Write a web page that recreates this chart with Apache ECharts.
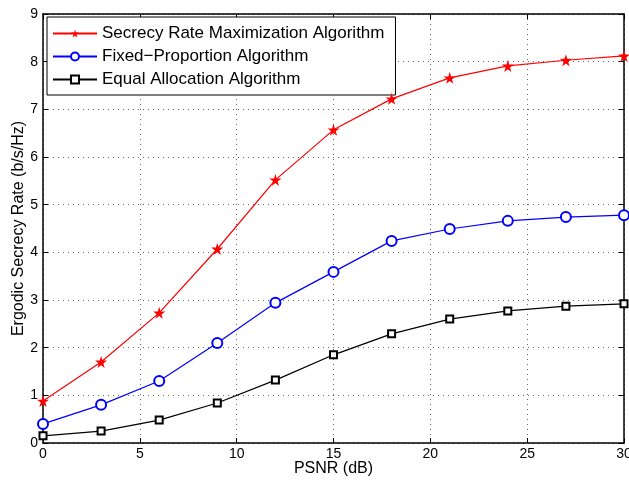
<!DOCTYPE html>
<html>
<head>
<meta charset="utf-8">
<script src="https://cdn.jsdelivr.net/npm/echarts@6/dist/echarts.min.js"></script>
<style>
  html, body { margin: 0; padding: 0; background: #fff; }
  #chart { width: 629px; height: 482px; }
</style>
</head>
<body>
<div id="chart"></div>
<script>
// PSNR values (dB)
const psnr = [0, 3, 6, 9, 12, 15, 18, 21, 24, 27, 30]
// Ergodic secrecy rate (b/s/Hz)
const srma = [0.88, 1.70, 2.73, 4.07, 5.52, 6.57, 7.22, 7.66, 7.91, 8.03, 8.12]
const fixedProp = [0.40, 0.80, 1.30, 2.10, 2.94, 3.59, 4.24, 4.49, 4.66, 4.74, 4.78]
const equalAlloc = [0.15, 0.25, 0.48, 0.84, 1.32, 1.85, 2.29, 2.60, 2.77, 2.87, 2.92]

const names = ['Secrecy Rate Maximization Algorithm', 'Fixed\u2212Proportion Algorithm', 'Equal Allocation Algorithm']

const STAR = 'path://M50,0 L61,35 L98,35 L68,57 L79,91 L50,70 L21,91 L32,57 L2,35 L39,35 Z'
const FONT = 'Liberation Sans'

const pairs = ys => psnr.map((x, i) => [x, ys[i]])

const chart = echarts.init(document.getElementById('chart'))

const gridLine = { show: true, lineStyle: { color: '#666', type: [1, 4], width: 1 } }
const axisLine = { show: true, onZero: false, lineStyle: { color: '#000', width: 1.5 } }
const tick = { show: true, inside: true, length: 5, lineStyle: { color: '#000' } }

chart.setOption({
  animation: false,
  backgroundColor: '#fff',
  textStyle: { fontFamily: FONT },
  grid: { left: 43, right: 5, top: 14, bottom: 39, outerBoundsMode: 'none', containLabel: false },
  legend: {
    left: 47,
    top: 17,
    orient: 'vertical',
    data: names,
    itemWidth: 44,
    itemHeight: 10,
    itemGap: 6,
    padding: [8, 11, 7, 5],
    backgroundColor: '#fff',
    borderColor: '#000',
    borderWidth: 1,
    textStyle: { fontFamily: FONT, fontSize: 17, color: '#000' },
  },
  xAxis: [{
    type: 'value',
    min: 0,
    max: 30,
    interval: 5,
    name: 'PSNR (dB)',
    nameLocation: 'middle',
    nameGap: 18,
    nameMoveOverlap: false,
    nameTextStyle: { fontFamily: FONT, fontSize: 16, color: '#000' },
    axisLine: axisLine,
    axisTick: tick,
    axisLabel: { fontFamily: FONT, fontSize: 14, color: '#000', margin: 4 },
    splitLine: gridLine,
  }, {
    type: 'value',
    position: 'top',
    min: 0,
    max: 30,
    interval: 5,
    axisLine: axisLine,
    axisTick: tick,
    axisLabel: { show: false },
    splitLine: { show: false },
  }],
  yAxis: [{
    type: 'value',
    min: 0,
    max: 9,
    interval: 1,
    name: 'Ergodic Secrecy Rate (b/s/Hz)',
    nameLocation: 'middle',
    nameGap: 16,
    nameMoveOverlap: false,
    nameTextStyle: { fontFamily: FONT, fontSize: 16, color: '#000' },
    axisLine: axisLine,
    axisTick: tick,
    axisLabel: { fontFamily: FONT, fontSize: 14, color: '#000', margin: 5 },
    splitLine: gridLine,
  }, {
    type: 'value',
    position: 'right',
    min: 0,
    max: 9,
    interval: 1,
    axisLine: axisLine,
    axisTick: tick,
    axisLabel: { show: false },
    splitLine: { show: false },
  }],
  series: [{
    name: names[0],
    type: 'line',
    data: pairs(srma),
    symbol: STAR,
    symbolSize: 12,
    showAllSymbol: true,
    itemStyle: { color: '#ff0000' },
    lineStyle: { color: '#ff0000', width: 1.2 },
    z: 5,
  }, {
    name: names[1],
    type: 'line',
    data: pairs(fixedProp),
    symbol: 'emptyCircle',
    symbolSize: 10,
    itemStyle: { color: '#0000ff', borderWidth: 1.2 },
    lineStyle: { color: '#0000ff', width: 1.2 },
    z: 4,
  }, {
    name: names[2],
    type: 'line',
    data: pairs(equalAlloc),
    symbol: 'emptyRect',
    symbolSize: 7,
    itemStyle: { color: '#000', borderWidth: 1.1 },
    lineStyle: { color: '#000', width: 1.2 },
    z: 3,
  }],
})
</script>
</body>
</html>
